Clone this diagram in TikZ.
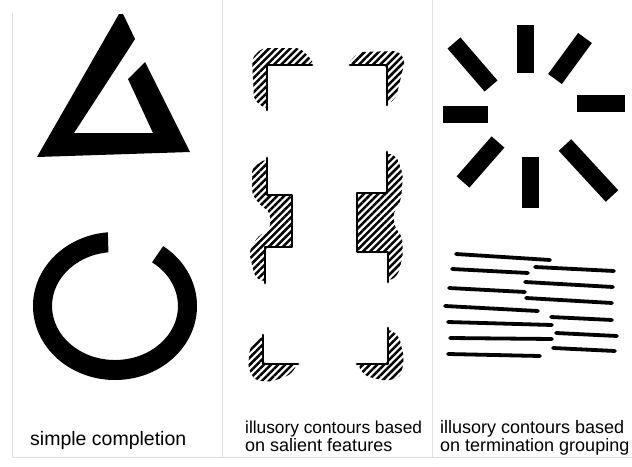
\documentclass[tikz,border=0pt]{standalone}
\usepackage{fontspec}
\setmainfont{Liberation Sans}
\usetikzlibrary{patterns.meta}
\begin{document}
\begin{tikzpicture}[x=1pt,y=-1pt,
    every node/.style={font=\fontsize{18}{19}\selectfont,anchor=base west,inner sep=0pt},
    rule/.style={black!12,line width=.8pt},
    edge/.style={line width=2.8pt,line cap=round,line join=round},
    hatch/.style={pattern={Lines[angle=45,distance=5pt,line width=2.5pt]},rounded corners=5pt},
    bar/.style={line width=17pt},
    stroke/.style={line width=3.8pt,line cap=round}]
    \useasboundingbox (0,0) rectangle (632,466);
    % Faint panel rules.
    \draw[rule] (12,13) -- (12,457) -- (632,457);
    \draw[rule] (222,0) -- (222,457);
    \draw[rule] (432,0) -- (432,457);

    % Simple completion: triangle and ring.
    \fill (37,157) -- (119,14) -- (123,14) -- (135,39) -- (128,50) -- (74,133) -- (153,133)
        -- (128,79) -- (145,62) -- (190,152) -- cycle;
    \fill (115,306) ++(-54:82 and 74) arc[start angle=-54,end angle=265,x radius=82,y radius=74]
        -- ([shift={(264:63 and 54)}]115,306) arc[start angle=264,end angle=-54,x radius=63,y radius=54] -- cycle;
    \node[font=\fontsize{19.5}{20}\selectfont] (simple) at (30,445) {simple completion};

    % Salient features: hatched corners.
    \fill[hatch] (312,65) -- (267,65) -- (267,110) -- (254,100) -- (252,58) -- (262,48) -- (300,48) -- (312,60) -- cycle;
    \draw[edge] (312,65) -- (267,65) -- (267,110);
    \fill[hatch] (350,65) -- (387,65) -- (387,105) -- (396,98) -- (405,60) -- (398,51) -- (360,52) -- (350,60) -- cycle;
    \draw[edge] (350,65) -- (387,65) -- (387,105);
    \fill[hatch] (267,158) -- (267,195) -- (292,195) -- (292,247) -- (265,247) -- (265,283) -- (255,277)
        -- (249,252) -- (258,236) -- (270,230) -- (270,212) -- (260,205) -- (252,194) -- (252,168) -- cycle;
    \draw[edge] (267,158) -- (267,195) -- (292,195) -- (292,247) -- (265,247) -- (265,283);
    \fill[hatch] (387,152) -- (387,193) -- (357,193) -- (357,252) -- (388,252) -- (388,282) -- (398,275)
        -- (403,255) -- (402,236) -- (395,228) -- (393,214) -- (401,200) -- (403,175) -- (397,157) -- cycle;
    \draw[edge] (387,152) -- (387,193) -- (357,193) -- (357,252) -- (388,252) -- (388,282);
    \fill[hatch] (263,335) -- (263,364) -- (298,364) -- (290,375) -- (270,382) -- (254,380) -- (248,367) -- (250,347) -- cycle;
    \draw[edge] (263,335) -- (263,364) -- (298,364);
    \fill[hatch] (388,328) -- (388,364) -- (357,364) -- (365,376) -- (386,381) -- (401,377) -- (404,358) -- (399,336) -- cycle;
    \draw[edge] (388,328) -- (388,364) -- (357,364);
    \node[font=\fontsize{17.3}{18}\selectfont] (salient1) at (245,433) {illusory contours based};
    \node (salient2) at (245,451) {on salient features};

    % Termination grouping: bars round a disc, shifted line gratings.
    \draw[bar] (525,73) -- (525,25);
    \draw[bar] (555,79) -- (585,38);
    \draw[bar] (577,103) -- (625,103);
    \draw[bar] (565,145) -- (612,196);
    \draw[bar] (530,157) -- (530,208);
    \draw[bar] (498,142) -- (463,182);
    \draw[bar] (488,114) -- (443,114);
    \draw[bar] (491,86) -- (454,43);
    \foreach \xa/\ya/\xb/\yb in {456/254/550/260, 452/269/528/273, 449/288/525/292, 445/306/538/311,
        448/322/552/325, 450/338/552/339, 448/354/540/356}
        \draw[stroke] (\xa,\ya) -- (\xb,\yb);
    \foreach \xa/\ya/\xb/\yb in {535/267/614/271, 525/282/613/287, 526/298/612/303,
        551/317/612/320, 556/333/617/336, 553/348/615/351}
        \draw[stroke] (\xa,\ya) -- (\xb,\yb);
    \node (grouping1) at (440,433) {illusory contours based};
    \node (grouping2) at (440,451) {on termination grouping};
\end{tikzpicture}
\end{document}
